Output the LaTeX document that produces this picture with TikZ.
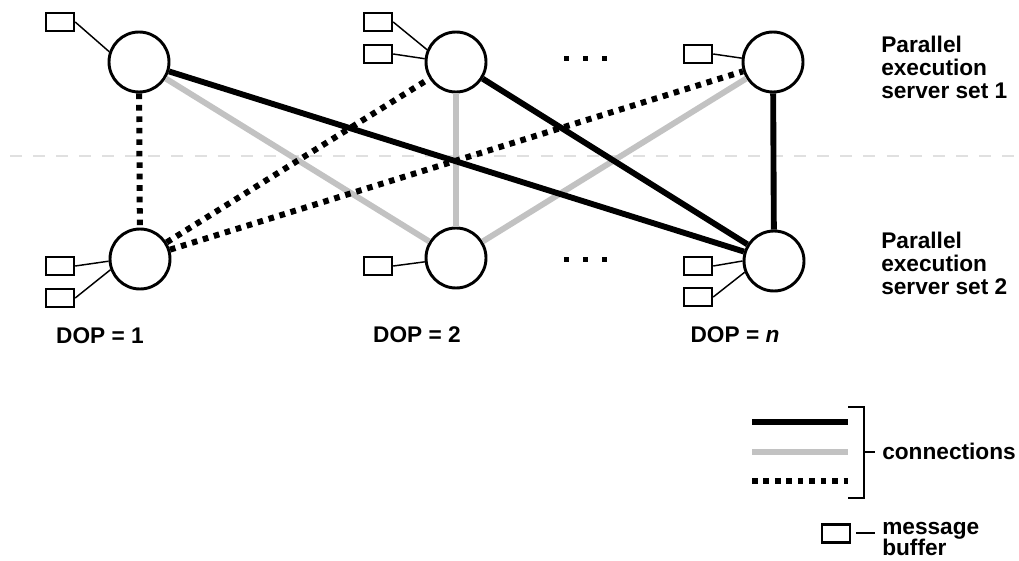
\documentclass[tikz,border=0pt]{standalone}
\usepackage{fontspec}
\setmainfont{Liberation Sans}
\usetikzlibrary{positioning,calc}
\definecolor{conngray}{gray}{0.76}
\definecolor{sepgray}{gray}{0.88}
\tikzset{main base/.style={draw,line width=2.2pt}, }
\tikzset{server node/.style={circle,main base,fill=white,inner sep=0pt,minimum size=45pt}, }
\tikzset{buffer node/.style={rectangle,draw,line width=1.8pt,fill=white,inner sep=0pt,
    minimum width=21pt,minimum height=13.5pt}, }
\tikzset{label text/.style={font=\fontsize{17}{17}\selectfont\bfseries,inner sep=0pt,align=left}, }
\tikzset{label tight/.style={label text,font=\fontsize{17}{16}\selectfont\bfseries}, }
\tikzset{linea/.style={line width=4.4pt,draw}}
\tikzset{linea black/.style={linea,black}}
\tikzset{linea gray/.style={linea,conngray}}
\tikzset{linea dotted/.style={draw,line width=4.5pt,dash pattern=on 4.2pt off 4.4pt}}
\tikzset{tie/.style={line width=1.1pt}}
\tikzset{bracket/.style={line width=1.5pt}}

\begin{document}
\begin{tikzpicture}[x=0.75pt,y=-0.75pt]
  \useasboundingbox (0,0) rectangle (1019,560);
  % dividing line
  \draw[sepgray,line width=2.2pt,dash pattern=on 9pt off 8.3pt] (10,156) -- (1019,156);
  % server processes
  \node[server node] (1) at (139,62) {};
  \node[server node] (2) at (456,62) {};
  \node[server node] (3) at (773,62) {};
  \node[server node] (4) at (140,259) {};
  \node[server node] (5) at (456,258) {};
  \node[server node] (6) at (774,261) {};
  % message buffers
  \node[buffer node] (b1) at (60,22) {};
  \node[buffer node] (b2) at (378,22) {};
  \node[buffer node] (b3) at (378,54) {};
  \node[buffer node] (b4) at (698,54) {};
  \node[buffer node] (b5) at (60,266) {};
  \node[buffer node] (b6) at (60,298) {};
  \node[buffer node] (b7) at (378,266) {};
  \node[buffer node] (b8) at (698,266) {};
  \node[buffer node] (b9) at (698,297) {};
\foreach \x /\y in {b1/1.161,b2/2.157,b3/2.174,b4/3.173,b5/4.184,b6/4.200,b7/5.187,b8/6.180,b9/6.201}
  \draw[tie] (\x.east) -- (\y);
  % connections
\foreach \x /\y in {1/5,2/5,3/5}
  \path[linea gray] (\x) edge (\y);
\foreach \x /\y in {1/6,2/6,3/6}
  \path[linea black] (\x) edge (\y);
\foreach \x /\y in {1/4,4/2,4/3}
  \path[linea dotted] (\x) edge (\y);
  % dots
\foreach \d in {566,585,604}{
  \fill (\d-2.5,56.5) rectangle ++(5,5);
  \fill (\d-2.5,256.5) rectangle ++(5,5);
}
  % labels
  \node[label text,anchor=north west] (set1) at (881,36) {Parallel\\execution\\server set 1};
  \node[label text,anchor=north west] (set2) at (881,232) {Parallel\\execution\\server set 2};
  \node[label text,anchor=base] (dop1) at (100,343) {DOP = 1};
  \node[label text,anchor=base] (dop2) at (417,342) {DOP = 2};
  \node[label text,anchor=base] (dopn) at (735,342) {DOP = \textit{n}};
  % key
  \coordinate (k1) at (752,422); \coordinate (k1e) at (848,422);
  \coordinate (k2) at (752,452); \coordinate (k2e) at (848,452);
  \coordinate (k3) at (752,481); \coordinate (k3e) at (848,481);
  \draw[linea black] (k1) -- (k1e);
  \draw[linea gray] (k2) -- (k2e);
  \draw[linea dotted] (k3) -- (k3e);
  \draw[bracket] (848,407) -- (864,407) -- (864,498) -- (848,498);
  \node[label text,anchor=base west] (conn) at (882,459) {connections};
  \coordinate (t1) at (864,452); \coordinate (t1e) at (875,452);
  \draw[bracket] (t1) -- (t1e);
  \node[buffer node] (mb) at (836,533.5) {};
  \coordinate (t2) at (856,533); \coordinate (t2e) at (875,533);
  \draw[bracket] (t2) -- (t2e);
  \node[label tight,anchor=north west] (mbt) at (882,522) {message\\buffer};
\end{tikzpicture}
\end{document}
